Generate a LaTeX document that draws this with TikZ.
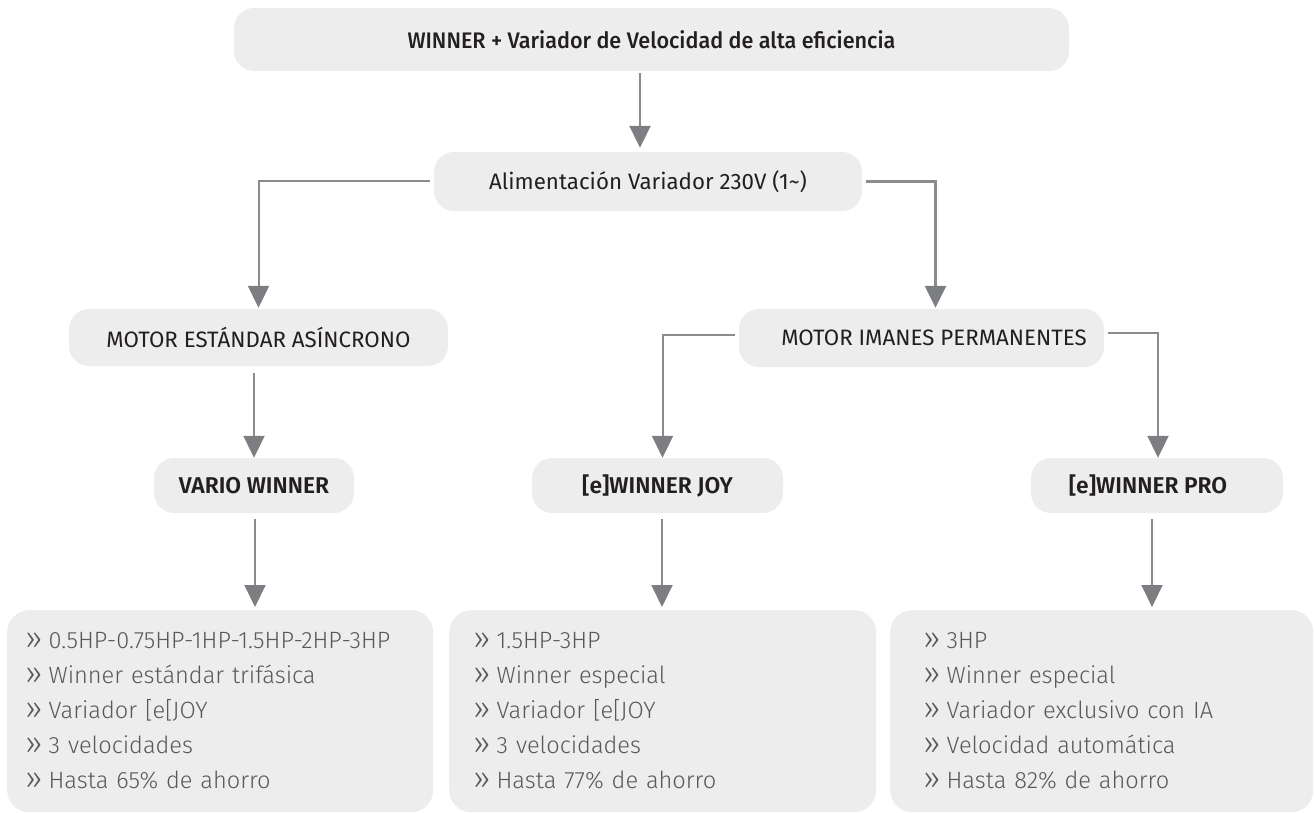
\documentclass[tikz,border=0pt]{standalone}
\usepackage{fontspec}
\setmainfont{Fira Sans}
\newfontfamily\lightfont{Fira Sans Light}
\newfontfamily\semifont{Fira Sans SemiBold}
\newfontfamily\headfont{Fira Sans Medium}[FakeStretch=0.96]
\usetikzlibrary{arrows.meta}

\definecolor{boxgray}{HTML}{EDEDED}
\definecolor{linegray}{HTML}{8C8C8E}
\definecolor{tipgray}{HTML}{7D7E82}
\definecolor{textdark}{HTML}{231F20}
\definecolor{textgray}{HTML}{58595B}

\newcommand{\itm}{\raisebox{-1pt}{\fontsize{32}{35}\selectfont »}\hspace{6pt}}

\tikzset{
  box/.style={fill=boxgray, rounded corners=20pt, inner sep=0pt, text=textdark,
    font=\fontsize{22.3}{26}\selectfont},
  headbox/.style={box, font=\headfont\fontsize{22.5}{26}\selectfont},
  namebox/.style={box, minimum height=55pt, font=\semifont\fontsize{22.8}{26}\selectfont},
  listbox/.style={fill=boxgray, rounded corners=22pt, anchor=north west, inner ysep=0pt,
    minimum height=202pt, align=left, text=textgray,
    font=\lightfont\fontsize{23.6}{35}\selectfont},
  conn/.style={draw=linegray, line width=2pt,
    -{Triangle[width=21pt,length=22pt,color=tipgray]}},
}

\begin{document}
\begin{tikzpicture}[x=1pt,y=-1pt]
    \useasboundingbox (0,0) rectangle (1314,813);

    % upper levels
    \node[headbox, minimum width=835pt, minimum height=63pt] (top) at (651.5,39.5)
        {WINNER + Variador de Velocidad de alta eficiencia};
    \node[box, minimum width=428pt, minimum height=59pt] (alim) at (648,181.5)
        {Alimentación Variador 230V (1\textasciitilde)};
    \node[box, minimum width=379pt, minimum height=57pt] (estandar) at (258.5,337.5)
        {MOTOR ESTÁNDAR ASÍNCRONO};
    \node[box, minimum width=365pt, minimum height=58pt] (imanes) at (921.5,338)
        {\hspace*{25pt}MOTOR IMANES PERMANENTES};

    % products
    \node[namebox, minimum width=200pt] (vario) at (254,485.5) {VARIO WINNER};
    \node[namebox, minimum width=251pt] (joy) at (657.5,485.5) {[e]WINNER JOY};
    \node[namebox, minimum width=252pt] (pro) at (1157,485.5) {\hspace*{-18pt}[e]WINNER PRO};

    % feature lists
    \node[listbox, minimum width=426pt, inner xsep=18pt, text width=390pt] (list1) at (7,610)
        {\itm 0.5HP-0.75HP-1HP-1.5HP-2HP-3HP\\ \itm Winner estándar trifásica\\
         \itm Variador [e[JOY\\ \itm 3 velocidades\\ \itm Hasta 65\% de ahorro};
    \node[listbox, minimum width=427pt, inner xsep=24pt, text width=379pt] (list2) at (449,610)
        {\itm 1.5HP-3HP\\ \itm Winner especial\\
         \itm Variador [e[JOY\\ \itm 3 velocidades\\ \itm Hasta 77\% de ahorro};
    \node[listbox, minimum width=423pt, inner xsep=33pt, text width=357pt] (list3) at (890,610)
        {\itm 3HP\\ \itm Winner especial\\
         \itm Variador exclusivo con IA\\ \itm Velocidad automática\\ \itm Hasta 82\% de ahorro};

    % connectors
    \coordinate (t1) at ([xshift=-11.5pt]top.south);
    \draw[conn, shorten <=2pt, shorten >=4pt] (t1) -- (t1 |- alim.north);
    \draw[conn, shorten <=4pt, shorten >=1pt] (alim.west) -| (estandar.north);
    \coordinate (t2) at ([xshift=14pt]imanes.north);
    \draw[conn, line width=2.6pt, shorten <=4pt, shorten >=1pt] (alim.east) -| (t2);
    \draw[conn, shorten <=4pt] ([yshift=3pt]imanes.west) -| ([xshift=5pt]joy.north);
    \draw[conn, shorten <=4pt] ([yshift=5pt]imanes.east) -| ([xshift=1pt]pro.north);
    \draw[conn, shorten <=7pt] (vario.north |- estandar.south) -- (vario.north);
    \foreach \a/\b/\s in {vario/list1/1, joy/list2/4.5, pro/list3/-5} {
        \draw[conn, shorten <=6pt, shorten >=3pt] ([xshift=\s pt]\a.south)
            -- ([xshift=\s pt]\a.south |- \b.north);
    }
\end{tikzpicture}
\end{document}
